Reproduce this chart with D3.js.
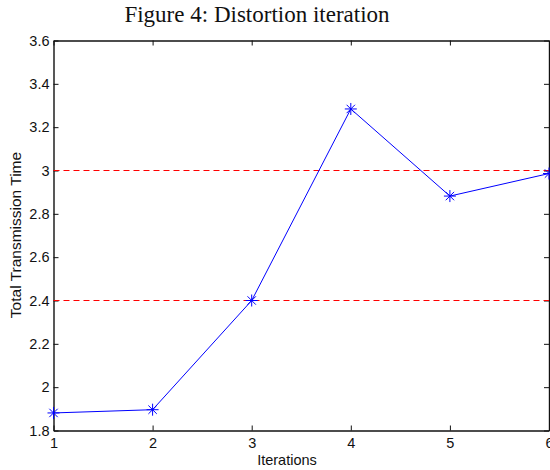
<!DOCTYPE html>
<html>
<head>
<meta charset="utf-8">
<script src="https://cdn.jsdelivr.net/npm/d3@7"></script>
<style>
  html, body { margin: 0; padding: 0; background: #fff; }
  svg { display: block; }
</style>
</head>
<body>
<script>
// Total transmission time per distortion iteration
const iterations = [1, 2, 3, 4, 5, 6];
const transmissionTime = [1.881, 1.896, 2.40, 3.284, 2.882, 2.986];
const thresholds = [2.4, 3.0];
const xTicks = [1, 2, 3, 4, 5, 6];
const yTicks = [1.8, 2, 2.2, 2.4, 2.6, 2.8, 3, 3.2, 3.4, 3.6];

const W = 550, H = 470;
const m = { left: 53.5, right: 1, top: 40.5, bottom: 39.5 };

const svg = d3.select("body").append("svg").attr("width", W).attr("height", H);

const x = d3.scaleLinear().domain([1, 6]).range([m.left, W - m.right]);
const y = d3.scaleLinear().domain([1.8, 3.6]).range([H - m.bottom, m.top]);

const sans = "Liberation Sans, Arial, sans-serif";

// Title
svg.append("text")
  .attr("x", 257).attr("y", 22)
  .attr("text-anchor", "middle")
  .attr("font-family", "Liberation Serif, Times New Roman, serif")
  .attr("font-size", 23)
  .attr("fill", "#111")
  .text("Figure 4: Distortion iteration");

// Axes with inward ticks on all four sides
const tickLen = 5;
const axBottom = svg.append("g").attr("transform", `translate(0,${y(1.8)})`)
  .call(d3.axisBottom(x).tickValues(xTicks).tickFormat(d3.format("d")).tickSizeInner(-tickLen).tickSizeOuter(0).tickPadding(7));
const axTop = svg.append("g").attr("transform", `translate(0,${y(3.6)})`)
  .call(d3.axisTop(x).tickValues(xTicks).tickFormat("").tickSizeInner(-tickLen).tickSizeOuter(0));
const axLeft = svg.append("g").attr("transform", `translate(${x(1)},0)`)
  .call(d3.axisLeft(y).tickValues(yTicks).tickFormat(d3.format("~g")).tickSizeInner(-tickLen).tickSizeOuter(0).tickPadding(4));
const axRight = svg.append("g").attr("transform", `translate(${x(6)},0)`)
  .call(d3.axisRight(y).tickValues(yTicks).tickFormat("").tickSizeInner(-tickLen).tickSizeOuter(0));

[axBottom, axTop, axLeft, axRight].forEach(g => {
  g.select(".domain").attr("stroke", "#111").attr("stroke-width", 1.4);
  g.selectAll(".tick line").attr("stroke", "#111");
  g.selectAll(".tick text").attr("font-family", sans).attr("font-size", 14.5).attr("fill", "#111");
});

// Axis titles
svg.append("text")
  .attr("x", 287).attr("y", 465)
  .attr("text-anchor", "middle")
  .attr("font-family", sans).attr("font-size", 14.5).attr("fill", "#111")
  .text("Iterations");
svg.append("text")
  .attr("transform", "translate(20.5,235) rotate(-90)")
  .attr("text-anchor", "middle")
  .attr("font-family", sans).attr("font-size", 15.5).attr("fill", "#111")
  .text("Total Transmission Time");

// Threshold lines
svg.append("g").selectAll("line").data(thresholds).join("line")
  .attr("x1", x(1)).attr("x2", x(6))
  .attr("y1", d => y(d)).attr("y2", d => y(d))
  .attr("stroke", "#ff0000").attr("stroke-width", 1.1)
  .attr("stroke-dasharray", "6,4");

// Series line
const pts = iterations.map((it, i) => [it, transmissionTime[i]]);
svg.append("path")
  .datum(pts)
  .attr("fill", "none")
  .attr("stroke", "#0000ff")
  .attr("stroke-width", 1)
  .attr("d", d3.line().x(d => x(d[0])).y(d => y(d[1])));

// Asterisk markers
const r = 6;
const star = svg.append("g").selectAll("g").data(pts).join("g")
  .attr("transform", d => `translate(${x(d[0])},${y(d[1])})`)
  .attr("stroke", "#0000ff").attr("stroke-width", 1);
star.append("line").attr("x1", -r).attr("x2", r).attr("y1", 0).attr("y2", 0);
star.append("line").attr("x1", 0).attr("x2", 0).attr("y1", -r).attr("y2", r);
star.append("line").attr("x1", -r * 0.7).attr("x2", r * 0.7).attr("y1", -r * 0.7).attr("y2", r * 0.7);
star.append("line").attr("x1", -r * 0.7).attr("x2", r * 0.7).attr("y1", r * 0.7).attr("y2", -r * 0.7);
</script>
</body>
</html>
